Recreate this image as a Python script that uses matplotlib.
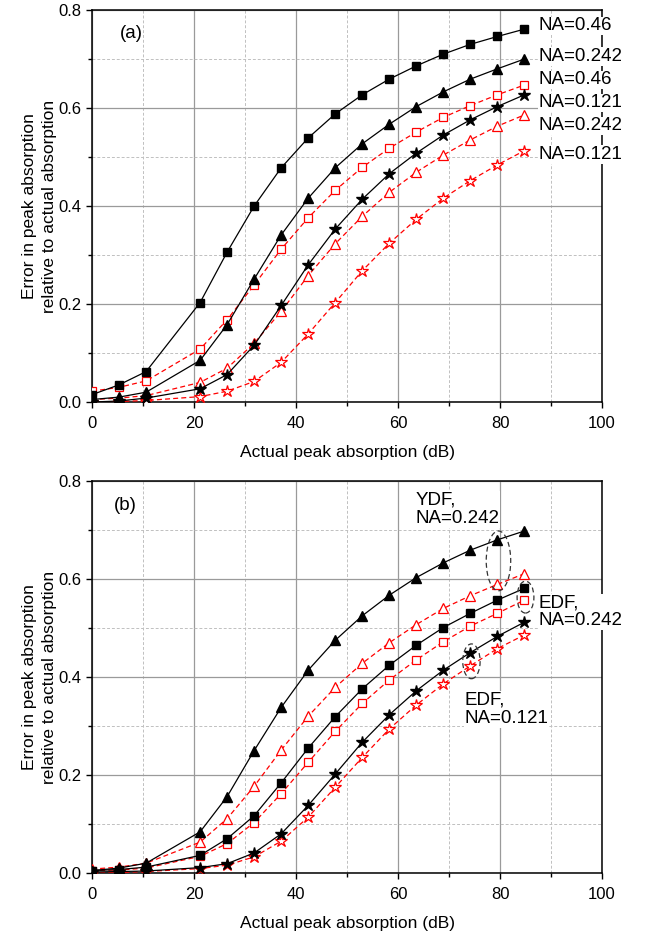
import matplotlib.pyplot as plt
from matplotlib.patches import Ellipse
from matplotlib.ticker import MultipleLocator

plt.rcParams['font.family'] = ['Liberation Sans', 'DejaVu Sans']

# actual peak absorption (dB), same for every curve
x = [0, 5.3, 10.6, 21.2, 26.5, 31.8, 37.1, 42.4, 47.7, 53.0, 58.3, 63.6, 68.9, 74.2, 79.5, 84.8]

# panel (a): black = filled markers (solid), red = open markers (dashed)
a_sq_black = [0.015, 0.035, 0.062, 0.203, 0.306, 0.400, 0.478, 0.539, 0.588, 0.627, 0.659, 0.686, 0.710, 0.730, 0.746, 0.761]
a_tri_black = [0.005, 0.010, 0.020, 0.085, 0.158, 0.251, 0.341, 0.416, 0.478, 0.527, 0.567, 0.603, 0.633, 0.659, 0.680, 0.700]
a_star_black = [0.000, 0.002, 0.008, 0.027, 0.056, 0.116, 0.197, 0.280, 0.353, 0.414, 0.466, 0.508, 0.545, 0.576, 0.603, 0.627]
a_sq_red = [0.022, 0.030, 0.043, 0.108, 0.168, 0.239, 0.312, 0.376, 0.432, 0.479, 0.518, 0.551, 0.581, 0.605, 0.627, 0.647]
a_tri_red = [0.005, 0.008, 0.013, 0.040, 0.069, 0.120, 0.185, 0.258, 0.323, 0.379, 0.428, 0.469, 0.504, 0.535, 0.563, 0.586]
a_star_red = [0.000, 0.001, 0.003, 0.011, 0.022, 0.042, 0.081, 0.139, 0.203, 0.268, 0.324, 0.373, 0.416, 0.452, 0.484, 0.513]

a_labels = ['NA=0.46', 'NA=0.242', 'NA=0.46', 'NA=0.121', 'NA=0.242', 'NA=0.121']
a_label_y = [0.768, 0.705, 0.658, 0.611, 0.564, 0.505]

# panel (b)
b_tri_black = [0.005, 0.010, 0.020, 0.084, 0.156, 0.250, 0.338, 0.414, 0.475, 0.525, 0.567, 0.603, 0.633, 0.659, 0.680, 0.698]
b_tri_red = [0.008, 0.012, 0.020, 0.063, 0.111, 0.177, 0.251, 0.320, 0.379, 0.428, 0.470, 0.507, 0.540, 0.566, 0.589, 0.611]
b_sq_black = [0.005, 0.007, 0.012, 0.036, 0.070, 0.117, 0.184, 0.255, 0.319, 0.376, 0.424, 0.465, 0.501, 0.530, 0.557, 0.581]
b_sq_red = [0.005, 0.006, 0.010, 0.034, 0.060, 0.103, 0.162, 0.226, 0.289, 0.346, 0.394, 0.435, 0.472, 0.504, 0.530, 0.557]
b_star_black = [0.002, 0.003, 0.004, 0.011, 0.019, 0.041, 0.080, 0.138, 0.202, 0.267, 0.323, 0.372, 0.414, 0.450, 0.483, 0.512]
b_star_red = [0.000, 0.001, 0.003, 0.009, 0.016, 0.033, 0.065, 0.114, 0.175, 0.236, 0.294, 0.343, 0.386, 0.423, 0.458, 0.486]


def black(ax, y, m, ms):
    ax.plot(x, y, color='black', lw=0.9, marker=m, ms=ms, mfc='black', mec='black', zorder=4)


def red(ax, y, m, ms):
    ax.plot(x, y, color='red', lw=0.9, ls=(0, (4, 2.5)), marker=m, ms=ms,
            mfc='white', mec='red', mew=0.9, zorder=3)


def style(ax, tag):
    ax.set_xlim(0, 100)
    ax.set_ylim(0, 0.8)
    ax.xaxis.set_major_locator(MultipleLocator(20))
    ax.xaxis.set_minor_locator(MultipleLocator(10))
    ax.yaxis.set_major_locator(MultipleLocator(0.2))
    ax.yaxis.set_minor_locator(MultipleLocator(0.1))
    ax.yaxis.set_major_formatter(plt.FormatStrFormatter('%.1f'))
    ax.grid(which='major', color='#9a9a9a', lw=0.9, ls='-')
    ax.grid(which='minor', color='#c0c0c0', lw=0.7, ls=(0, (3, 2)))
    ax.set_axisbelow(True)
    ax.tick_params(which='both', direction='out', labelsize=12, top=False, right=False)
    ax.tick_params(axis='x', which='major', pad=6)
    ax.tick_params(which='major', length=4, width=1)
    ax.tick_params(which='minor', length=3, width=1)
    for s in ax.spines.values():
        s.set_linewidth(1.1)
    ax.set_xlabel('Actual peak absorption (dB)', fontsize=12.5, labelpad=10)
    ax.set_ylabel('Error in peak absorption\nrelative to actual absorption', fontsize=12.5,
                  linespacing=1.45)
    ax.yaxis.set_label_coords(-0.068, 0.5)
    ax.text(tag[1], tag[2], tag[0], fontsize=13.5, va='center', ha='left')


fig = plt.figure(figsize=(6.47, 9.35), dpi=100)
ax1 = fig.add_axes([92 / 647, 1 - 402 / 935, 510 / 647, 392 / 935])
ax2 = fig.add_axes([92 / 647, 1 - 873 / 935, 510 / 647, 392 / 935])

# panel (a)
red(ax1, a_sq_red, 's', 6)
red(ax1, a_tri_red, '^', 7)
red(ax1, a_star_red, '*', 9)
black(ax1, a_sq_black, 's', 5.5)
black(ax1, a_tri_black, '^', 7)
black(ax1, a_star_black, '*', 9)
style(ax1, ('(a)', 5.5, 0.753))
for lab, ly in zip(a_labels, a_label_y):
    ax1.text(87.6, ly, lab, fontsize=13.5, va='center', ha='left', clip_on=False,
             bbox=dict(facecolor='white', edgecolor='none', pad=0.4), zorder=6)

# panel (b)
red(ax2, b_tri_red, '^', 7)
red(ax2, b_sq_red, 's', 6)
red(ax2, b_star_red, '*', 9)
black(ax2, b_tri_black, '^', 7)
black(ax2, b_sq_black, 's', 5.5)
black(ax2, b_star_black, '*', 9)
style(ax2, ('(b)', 4.3, 0.749))

ax2.text(63.5, 0.742, 'YDF,\nNA=0.242', fontsize=13.5, va='center', ha='left', linespacing=1.1,
         bbox=dict(facecolor='white', edgecolor='none', pad=0.4), zorder=6)
ax2.text(87.6, 0.533, 'EDF,\nNA=0.242', fontsize=13.5, va='center', ha='left', linespacing=1.1,
         clip_on=False, bbox=dict(facecolor='white', edgecolor='none', pad=0.4), zorder=6)
ax2.text(73.0, 0.334, 'EDF,\nNA=0.121', fontsize=13.5, va='center', ha='left', linespacing=1.1,
         bbox=dict(facecolor='white', edgecolor='none', pad=0.4), zorder=6)

for cx, cy, w, h in [(79.7, 0.637, 4.8, 0.122), (85.0, 0.563, 3.3, 0.065), (74.4, 0.432, 3.4, 0.071)]:
    ax2.add_patch(Ellipse((cx, cy), w, h, fill=False, ec='#333333', lw=0.9,
                          ls=(0, (4, 2.5)), zorder=5))

fig.savefig('out.png', dpi=100)
